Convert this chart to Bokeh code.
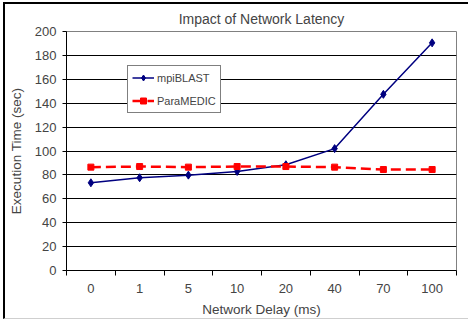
from bokeh.plotting import figure
from bokeh.models import FixedTicker, Range1d, Legend, LegendItem
from bokeh.embed import file_html
from bokeh.resources import INLINE

delays = ["0", "1", "5", "10", "20", "40", "70", "100"]
mpiblast = [73.4, 77.6, 79.8, 82.9, 88.5, 102, 147.4, 190.5]
paramedic = [86.5, 87, 86.5, 87, 87, 86.5, 84.5, 84.5]
y_ticks = list(range(0, 201, 20))

FONT = "Liberation Sans"

centers = [i + 0.5 for i in range(len(delays))]
edges = list(range(len(delays) + 1))

p = figure(width=465, height=317, output_backend="svg", toolbar_location=None,
           x_range=Range1d(0, len(delays)), y_range=Range1d(0, 200),
           min_border_left=61, min_border_right=14, min_border_top=27, min_border_bottom=51)
p.styles = {"margin-left": "3px", "margin-top": "2px",
            "border-left": "2px solid #000", "border-top": "2px solid #000",
            "border-bottom": "1px solid #cfcfcf"}

p.title.text = "Impact of Network Latency"
p.title.align = "center"
p.title.offset = -16
p.title.text_font = FONT
p.title.text_font_size = "14px"
p.title.text_font_style = "normal"
p.title.standoff = 9

p.background_fill_color = "white"
p.border_fill_color = "white"
p.outline_line_color = "#808080"
p.outline_line_width = 1

p.xgrid.visible = False
p.ygrid.grid_line_color = "black"
p.ygrid.grid_line_width = 1
p.ygrid.ticker = FixedTicker(ticks=y_ticks)

ax = p.xaxis[0]
ax.ticker = FixedTicker(ticks=centers, minor_ticks=edges)
ax.major_label_overrides = {c: d for c, d in zip(centers, delays)}
ax.major_tick_out = 0
ax.major_tick_in = 0
ax.minor_tick_out = 5
ax.minor_tick_in = 0
ax.minor_tick_line_color = "black"
ax.axis_line_color = "black"
ax.major_label_text_font = FONT
ax.major_label_text_font_size = "13px"
ax.major_label_standoff = 8
ax.axis_label = "Network Delay (ms)"
ax.axis_label_text_font = FONT
ax.axis_label_text_font_size = "13.5px"
ax.axis_label_text_font_style = "normal"
ax.axis_label_standoff = 6

ay = p.yaxis[0]
ay.ticker = FixedTicker(ticks=y_ticks)
ay.major_tick_out = 4
ay.major_tick_in = 0
ay.minor_tick_line_color = None
ay.axis_line_color = "black"
ay.major_label_text_font = FONT
ay.major_label_text_font_size = "13px"
ay.major_label_standoff = 6
ay.axis_label = "Execution Time (sec)"
ay.axis_label_text_font = FONT
ay.axis_label_text_font_size = "13.5px"
ay.axis_label_text_font_style = "normal"
ay.axis_label_standoff = 8

l1 = p.line(centers, mpiblast, line_color="#000080", line_width=1.5)
m1 = p.scatter(centers, mpiblast, marker="diamond", size=8, fill_color="#000080", line_color="#000080")
l2 = p.line(centers, paramedic, line_color="#ff0000", line_width=2.5, line_dash="10 5")
m2 = p.scatter(centers, paramedic, marker="square", size=6, fill_color="#ff0000", line_color="#ff0000")

legend = Legend(items=[LegendItem(label="mpiBLAST", renderers=[l1, m1]),
                       LegendItem(label="ParaMEDIC", renderers=[l2, m2])],
                location=(61, 157), border_line_color="black", border_line_width=1,
                background_fill_alpha=1, label_text_font=FONT, label_text_font_size="11px",
                glyph_width=22, glyph_height=15, label_height=15, spacing=8, padding=4,
                margin=0, label_standoff=3)
p.add_layout(legend, "center")

open("out.html", "w").write(file_html(p, INLINE))
